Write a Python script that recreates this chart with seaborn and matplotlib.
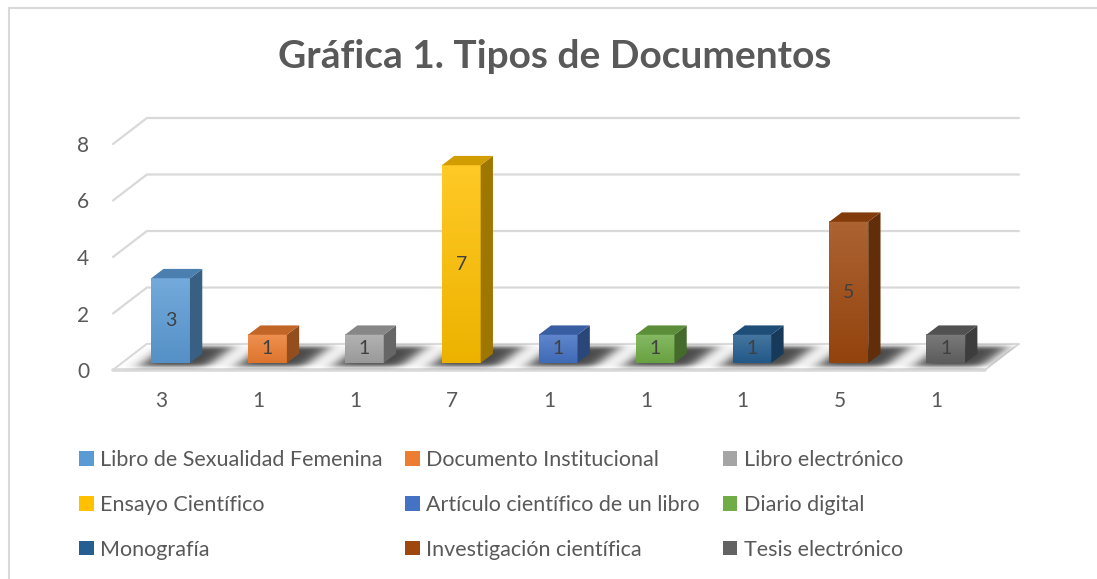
import numpy as np
import matplotlib
matplotlib.use("Agg")
import matplotlib.pyplot as plt
import matplotlib.colors as mcolors
import matplotlib.transforms as mtransforms
from matplotlib.patches import Polygon, Patch, Rectangle
from matplotlib.lines import Line2D
import seaborn as sns

# datos
tipos = ["Libro de Sexualidad Femenina", "Documento Institucional", "Libro electrónico",
         "Ensayo Científico", "Artículo científico de un libro", "Diario digital",
         "Monografía", "Investigación científica", "Tesis electrónico"]
cantidades = [3, 1, 1, 7, 1, 1, 1, 5, 1]
colores = ["#5B9BD5", "#ED7D31", "#A5A5A5", "#FFC000", "#4472C4",
           "#70AD47", "#255E91", "#9E480E", "#636363"]
yticks = [0, 2, 4, 6, 8]
titulo = "Gráfica 1. Tipos de Documentos"

sns.set_theme(style="white")
plt.rcParams['font.family'] = ['Lato', 'DejaVu Sans']

W, H = 1097, 579
fig = plt.figure(figsize=(W / 100, H / 100), dpi=100)
ax = fig.add_axes([113 / W, (H - 370) / H, 872 / W, 226 / H])

# profundidad del "3D" en unidades de datos
DX, DY = 0.35, 0.92
f0 = 0.27          # posicion de la barra dentro del piso
bdx, bdy = 0.127, 0.33

gris = "#d9d9d9"
n = len(cantidades)

# lineas de cuadricula (frente inclinado + fondo)
for v in yticks:
    ax.plot([-0.5, -0.5 + DX, n - 0.5 + DX], [v, v + DY, v + DY],
            color=gris, lw=1.6, clip_on=False, zorder=1)

# piso
piso = Polygon([(-0.5, 0), (n - 0.5, 0), (n - 0.5 + DX, DY), (-0.5 + DX, DY)],
               closed=True, facecolor="white", edgecolor=gris, lw=1.2,
               clip_on=False, zorder=1.5)
ax.add_patch(piso)
ax.plot([-0.5, n - 0.5], [0, 0], color=gris, lw=2.6, clip_on=False, zorder=1.6)

# sombras sobre el piso (coordenadas x, profundidad)
xs = np.linspace(-0.5, n - 0.5, 1200)
ds = np.linspace(0, 1, 120)
XX, DD = np.meshgrid(xs, ds)


def caja(t, a, b, s):
    return 0.5 * (np.tanh((t - a) / s) - np.tanh((t - b) / s))


alfa = np.zeros_like(XX)
for i in range(n):
    alfa += caja(XX, i - 0.28, i + 0.42, 0.1) * caja(DD, 0.14, 0.9, 0.1)
alfa = np.clip(alfa, 0, 1) * 0.72
img = np.zeros(XX.shape + (4,))
img[..., 3] = alfa
oblicua = mtransforms.Affine2D(np.array([[1, DX, 0], [0, DY, 0], [0, 0, 1]]))
sombra = ax.imshow(img, extent=(-0.5, n - 0.5, 0, 1), origin="lower",
                   interpolation="bilinear", zorder=2, clip_on=False)
sombra.set_transform(oblicua + ax.transData)

# barras (cara frontal)
sns.barplot(x=tipos, y=cantidades, hue=tipos, palette=colores, width=0.40,
            saturation=1, legend=False, ax=ax, zorder=3)

barras = [p for p in ax.patches if isinstance(p, Rectangle)]
for p in barras:
    h = p.get_height()
    if h == 0 or np.isnan(h):
        continue
    w = p.get_width()
    i = int(round(p.get_x() + w / 2))
    base = np.array(mcolors.to_rgb(colores[i]))
    p.set_x(p.get_x() + f0 * DX)
    p.set_y(f0 * DY)
    p.set_edgecolor("none")
    x0, y0 = p.get_x(), p.get_y()
    # degradado vertical
    arriba = base + (1 - base) * 0.15
    abajo = base * 0.93
    t = np.linspace(0, 1, 64)[:, None]
    grad = (abajo[None, :] * (1 - t) + arriba[None, :] * t)[:, None, :]
    im = ax.imshow(grad, extent=(x0, x0 + w, y0, y0 + h), origin="lower",
                   aspect="auto", zorder=3.1, clip_on=False)
    im.set_clip_path(p)
    # cara lateral y superior
    lado = Polygon([(x0 + w, y0), (x0 + w + bdx, y0 + bdy), (x0 + w + bdx, y0 + h + bdy),
                    (x0 + w, y0 + h)], closed=True, facecolor=base * 0.62,
                   edgecolor="none", zorder=3.2, clip_on=False)
    tapa = Polygon([(x0, y0 + h), (x0 + w, y0 + h), (x0 + w + bdx, y0 + h + bdy),
                    (x0 + bdx, y0 + h + bdy)], closed=True, facecolor=base * 0.82,
                   edgecolor="none", zorder=3.2, clip_on=False)
    ax.add_patch(lado)
    ax.add_patch(tapa)
    ax.text(x0 + w / 2, y0 + h / 2, str(cantidades[i]), ha="center", va="center",
            fontsize=14, color="#404040", zorder=4)

ax.set_xlim(-0.5, n - 0.5)
ax.set_ylim(0, 8)
ax.set_yticks(yticks)
ax.set_xticks(range(n))
ax.set_xticklabels([str(c) for c in cantidades])
ax.set_xlabel("")
ax.set_ylabel("")
ax.tick_params(axis="both", length=0, labelsize=15, labelcolor="#595959")
ax.tick_params(axis="y", pad=17)
ax.tick_params(axis="x", pad=15)
for s in ax.spines.values():
    s.set_visible(False)
ax.set_facecolor("none")
ax.grid(False)

# titulo
fig.text(555 / W, 1 - 57 / H, titulo, ha="center", va="center", fontsize=28,
         fontweight="bold", color="#595959")

# leyenda: fila por fila como en el original
orden = [0, 3, 6, 1, 4, 7, 2, 5, 8]
handles = [Patch(facecolor=colores[k], edgecolor="none") for k in orden]
labels = [tipos[k] for k in orden]
fig.legend(handles, labels, ncol=3, loc="upper left",
           bbox_to_anchor=(79 / W, 1 - 450 / H), frameon=False, fontsize=15.5,
           labelcolor="#595959", handlelength=0.68, handleheight=0.68,
           handletextpad=0.3, columnspacing=1.05, labelspacing=1.15, borderpad=0,
           borderaxespad=0)

# borde del area del grafico
fig.add_artist(Line2D([8.5 / W, 8.5 / W], [0, 1 - 7.5 / H], color=gris, lw=1.5))
fig.add_artist(Line2D([8.5 / W, 1], [1 - 7.5 / H, 1 - 7.5 / H], color=gris, lw=1.5))

fig.savefig("out.png", dpi=100, facecolor="white")
